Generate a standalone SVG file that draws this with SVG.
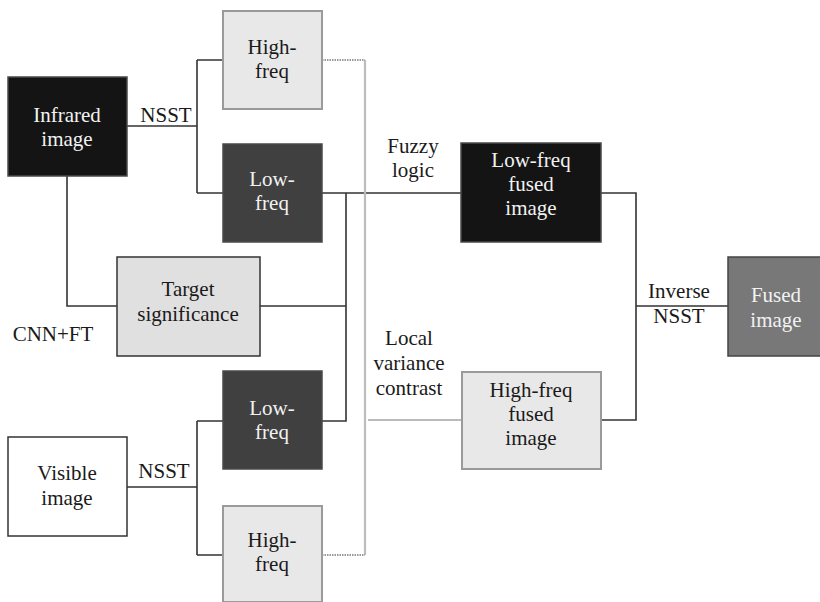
<svg xmlns="http://www.w3.org/2000/svg" width="820" height="602" viewBox="0 0 820 602">
<style>
text{font-family:'Liberation Serif','Times New Roman',Times,serif;font-size:21px;text-anchor:middle;fill:#1a1a1a}
.w{fill:#f2f2f2}
.dark{stroke:#4a4a4a;stroke-width:1.5}
.light{fill:#e8e8e8;stroke:#9a9a9a;stroke-width:2}
.c{fill:none;stroke:#333;stroke-width:1.6}
.g{fill:none;stroke:#bcbcbc;stroke-width:2.2}
.d{fill:none;stroke:#999;stroke-width:2;stroke-dasharray:1.5 1}
</style>
<rect width="820" height="602" fill="#fff"/>
<g id="connectors">
<path class="c" d="M127 126H197M197 60V193M197 60H223M197 193H223"/>
<path class="c" d="M322 193H461M346 193V421H322M260 306H346"/>
<path class="c" d="M67 176V306H117"/>
<path class="c" d="M127 487H197M197 421V555M197 421H223M197 555H223"/>
<path class="g" d="M365 60V555"/>
<path class="d" d="M322 60H365M322 555H365"/>
<path fill="none" stroke="#777" stroke-width="1.2" d="M368 420H462"/>
<path class="c" d="M601 193H636V420H601M636 306H728"/>
</g>
<g id="infrared">
<rect x="8" y="77" width="119" height="99" fill="#141414" class="dark"/>
<text x="67" y="122" class="w" font-family="Liberation Serif">Infrared</text>
<text x="67" y="146" class="w">image</text>
</g>
<text x="166" y="122">NSST</text>
<g id="highfreq1">
<rect x="223" y="11" width="99" height="98" class="light"/>
<text x="272" y="54">High-</text>
<text x="272" y="78">freq</text>
</g>
<g id="lowfreq1">
<rect x="223" y="144" width="99" height="98" fill="#404040" class="dark"/>
<text x="272" y="186" class="w">Low-</text>
<text x="272" y="210" class="w">freq</text>
</g>
<g id="target">
<rect x="117" y="257" width="143" height="99" fill="#e0e0e0" stroke="#333" stroke-width="1.5"/>
<text x="188" y="296">Target</text>
<text x="188" y="321">significance</text>
</g>
<text x="53" y="341">CNN+FT</text>
<g id="lowfreq2">
<rect x="223" y="371" width="99" height="98" fill="#404040" class="dark"/>
<text x="272" y="415" class="w">Low-</text>
<text x="272" y="439" class="w">freq</text>
</g>
<g id="visible">
<rect x="8" y="437" width="119" height="99" fill="#fff" stroke="#333" stroke-width="1.5"/>
<text x="67" y="480">Visible</text>
<text x="67" y="505">image</text>
</g>
<text x="164" y="478">NSST</text>
<g id="highfreq2">
<rect x="223" y="506" width="99" height="96" class="light"/>
<text x="272" y="547">High-</text>
<text x="272" y="571">freq</text>
</g>
<text x="413" y="153">Fuzzy</text>
<text x="413" y="177">logic</text>
<g id="lowfused">
<rect x="461" y="143" width="140" height="99" fill="#141414" class="dark"/>
<text x="531" y="167" class="w">Low-freq</text>
<text x="531" y="191" class="w">fused</text>
<text x="531" y="215" class="w">image</text>
</g>
<text x="409" y="345">Local</text>
<text x="409" y="370">variance</text>
<text x="409" y="395">contrast</text>
<g id="highfused">
<rect x="462" y="372" width="139" height="97" class="light"/>
<text x="531" y="397">High-freq</text>
<text x="531" y="421">fused</text>
<text x="531" y="445">image</text>
</g>
<text x="679" y="298">Inverse</text>
<text x="679" y="323">NSST</text>
<g id="fused">
<rect x="728" y="257" width="95" height="99" fill="#787878" stroke="#444" stroke-width="1.5"/>
<text x="776" y="302" class="w">Fused</text>
<text x="776" y="327" class="w">image</text>
</g>
</svg>
